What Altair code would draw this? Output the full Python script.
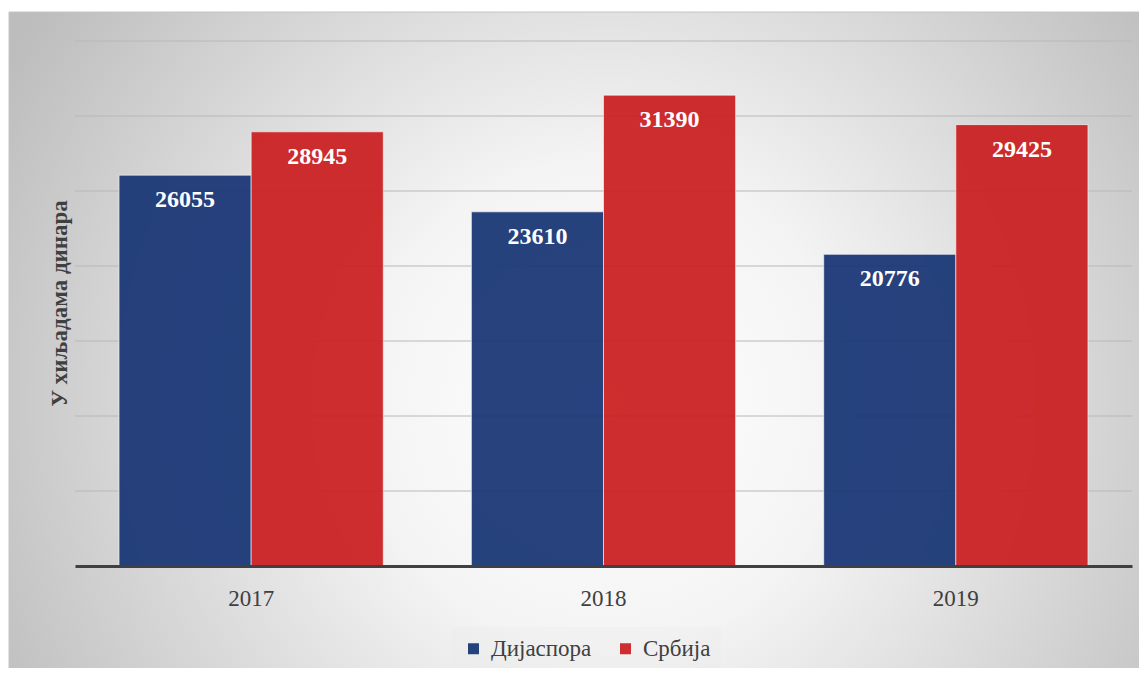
import altair as alt
import pandas as pd

years = ["2017", "2018", "2019"]
series = ["Дијаспора", "Србија"]
diaspora = [26055, 23610, 20776]
srbija = [28945, 31390, 29425]
colors = ["#1a3776", "#cb2122"]
grid_values = [5000, 10000, 15000, 20000, 25000, 30000, 35000]

rows = []
for i, y in enumerate(years):
    rows.append({"year": y, "series": series[0], "value": diaspora[i]})
    rows.append({"year": y, "series": series[1], "value": srbija[i]})
df = pd.DataFrame(rows)
grid_df = pd.DataFrame({"value": grid_values})

FONT = "Liberation Serif"
W, H = 1057, 525

bg = alt.Chart(alt.Data(values=[{"k": 1}])).mark_rect(
    fill={
        "gradient": "radial",
        "x1": 0.52, "y1": 0.55, "r1": 0,
        "x2": 0.52, "y2": 0.55, "r2": 0.6,
        "stops": [
            {"offset": 0, "color": "#ffffff"},
            {"offset": 0.35, "color": "#f4f4f4"},
            {"offset": 1, "color": "#bdbdbd"},
        ],
    },
    stroke="#c4c4c4",
    strokeWidth=1,
).encode(
    x=alt.value(-66), x2=alt.value(1080),
    y=alt.value(-29), y2=alt.value(640),
)

yscale = alt.Scale(domain=[0, 35000], nice=False)
yaxis = alt.Axis(
    labels=False, ticks=False, domain=False, grid=False, zindex=1,
    title="У хиљадама динара", titleFont=FONT, titleFontSize=23,
    titleFontWeight="bold", titleColor="#404040", titleAngle=270,
    titleX=-16, titleY=262, titleAlign="center", titleBaseline="middle",
)
yenc = alt.Y("value:Q", scale=yscale, axis=yaxis, title="У хиљадама динара")

grid = alt.Chart(grid_df).mark_rule(color="#b8b8b8", strokeWidth=1).encode(
    y=yenc,
    x=alt.value(0), x2=alt.value(W),
)

xenc = alt.X(
    "year:N",
    sort=years,
    scale=alt.Scale(paddingInner=0.25, paddingOuter=0.125),
    axis=alt.Axis(
        title=None, labelAngle=0, labelFont=FONT, labelFontSize=23,
        labelColor="#404040", ticks=False, domain=True, domainColor="#404040",
        domainWidth=3, labelPadding=21, grid=False, zindex=1,
    ),
)
xoff = alt.XOffset("series:N", sort=series)

bars = alt.Chart(df).mark_bar(
    opacity=0.94, stroke="#ffffff", strokeOpacity=0.6, strokeWidth=1
).encode(
    x=xenc, y=yenc, xOffset=xoff,
    color=alt.Color(
        "series:N",
        scale=alt.Scale(domain=series, range=colors),
        legend=alt.Legend(
            title=None, orient="none", direction="horizontal",
            legendX=377, legendY=586,
            symbolType="square", symbolSize=121, symbolStrokeWidth=0,
            labelFont=FONT, labelFontSize=23, labelColor="#404040",
            labelOffset=6, columnPadding=22, padding=10,
            fillColor="rgba(236,236,236,0.35)",
        ),
    ),
)

labels = alt.Chart(df).mark_text(
    font=FONT, fontSize=24, fontWeight="bold", color="#ffffff",
    baseline="middle", dy=25,
).encode(x=xenc, y=yenc, xOffset=xoff, text=alt.Text("value:Q", format="d"))

chart = alt.layer(bg, grid, bars, labels).properties(
    width=W, height=H,
    autosize=alt.AutoSizeParams(type="none"),
    padding={"left": 67, "top": 33, "right": 7, "bottom": 102},
).configure_view(strokeWidth=0)

chart.save("out.html", embed_options={"renderer": "svg", "actions": False})
